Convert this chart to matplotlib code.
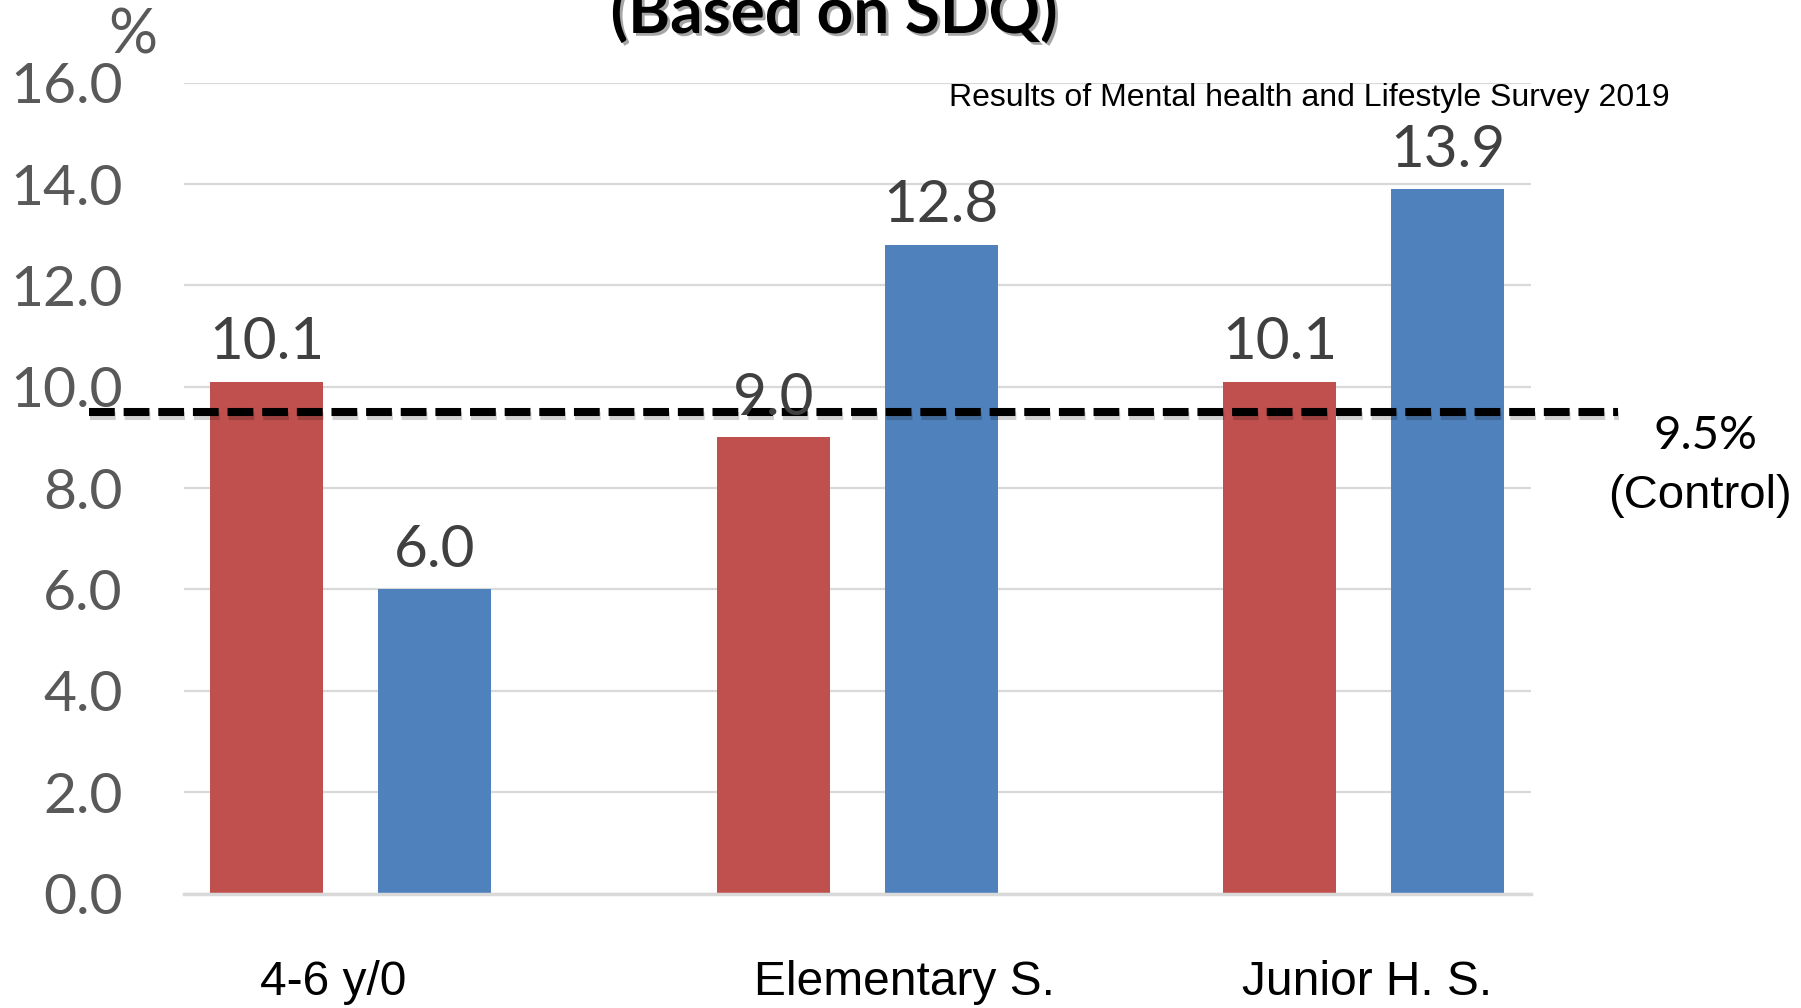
import matplotlib
matplotlib.use("Agg")
import matplotlib.pyplot as plt
import matplotlib.patheffects as pe
import numpy as np

# Data
groups = ["4-6 y/0", "Elementary S.", "Junior H. S."]
series_a = [10.1, 9.0, 10.1]    # red bars
series_b = [6.0, 12.8, 13.9]    # blue bars
control_value = 9.5
yticks = [0, 2, 4, 6, 8, 10, 12, 14, 16]

RED = "#C0504D"
BLUE = "#4F81BD"
NUM_FONT = "Lato"
TXT_FONT = "Liberation Sans"

fig = plt.figure(figsize=(18.01, 10.08), dpi=100)
ax = fig.add_axes([0.102, 0.1135, 0.748, 0.8045])

x = np.arange(len(groups))
offset = 0.166
width = 0.223

bars_a = ax.bar(x - offset, series_a, width, color=RED, zorder=3)
bars_b = ax.bar(x + offset, series_b, width, color=BLUE, zorder=3)

ax.set_xlim(-0.33, 2.33)
ax.set_ylim(0, 16)

# grid and frame
ax.set_yticks(yticks)
ax.set_yticklabels([f"{v:.1f}" for v in yticks], fontfamily=NUM_FONT,
                   fontsize=41, color="#595959")
ax.tick_params(axis="y", length=0, pad=44)
ax.yaxis.grid(True, color="#D9D9D9", linewidth=1.6, zorder=0)
for s in ["top", "right", "left"]:
    ax.spines[s].set_visible(False)
ax.spines["bottom"].set_color("#D9D9D9")
ax.spines["bottom"].set_linewidth(2.5)
ax.spines["bottom"].set_zorder(4)

# category labels
ax.set_xticks([-0.035, 1.093, 2.007])
ax.set_xticklabels(groups, fontfamily=TXT_FONT, fontsize=34.5, color="black")
ax.tick_params(axis="x", length=0, pad=48)

# value labels
for bars, vals in ((bars_a, series_a), (bars_b, series_b)):
    for b, v in zip(bars, vals):
        ax.annotate(f"{v:.1f}", (b.get_x() + b.get_width() / 2, v),
                    xytext=(0, 9), textcoords="offset points",
                    ha="center", va="bottom", fontfamily=NUM_FONT,
                    fontsize=42, color="#404040", zorder=5)

# control reference line
ax.plot([-0.517, 2.502], [control_value, control_value], color="black",
        linewidth=5.8, dashes=(3.2, 1.1), solid_capstyle="butt",
        dash_capstyle="butt", clip_on=False, zorder=4,
        path_effects=[pe.SimpleLineShadow(offset=(1, -2.5), shadow_color="black",
                                          alpha=0.18), pe.Normal()])

fig.text(1705 / 1801, 1 - 436 / 1008, f"{control_value}%", fontfamily=NUM_FONT,
         fontsize=34, color="black", ha="center", va="center")
fig.text(1700 / 1801, 1 - 496 / 1008, "(Control)", fontfamily=TXT_FONT,
         fontsize=34, color="black", ha="center", va="center")

# unit label
fig.text(133 / 1801, 1 - 36 / 1008, "%", fontfamily=NUM_FONT, fontsize=44,
         color="#595959", ha="center", va="center")

# source note
fig.text(949 / 1801, 1 - 98 / 1008,
         "Results of Mental health and Lifestyle Survey 2019",
         fontfamily=TXT_FONT, fontsize=23, color="black", ha="left", va="center")

# title (second line of heading)
fig.text(834 / 1801, 1 - 33 / 1008, "(Based on SDQ)", fontfamily=NUM_FONT,
         fontweight="bold", fontsize=46, color="black", ha="center",
         va="baseline",
         path_effects=[pe.SimplePatchShadow(offset=(2, -2), shadow_rgbFace="black",
                                            alpha=0.35), pe.Normal()])

fig.savefig("out.png", dpi=100)
